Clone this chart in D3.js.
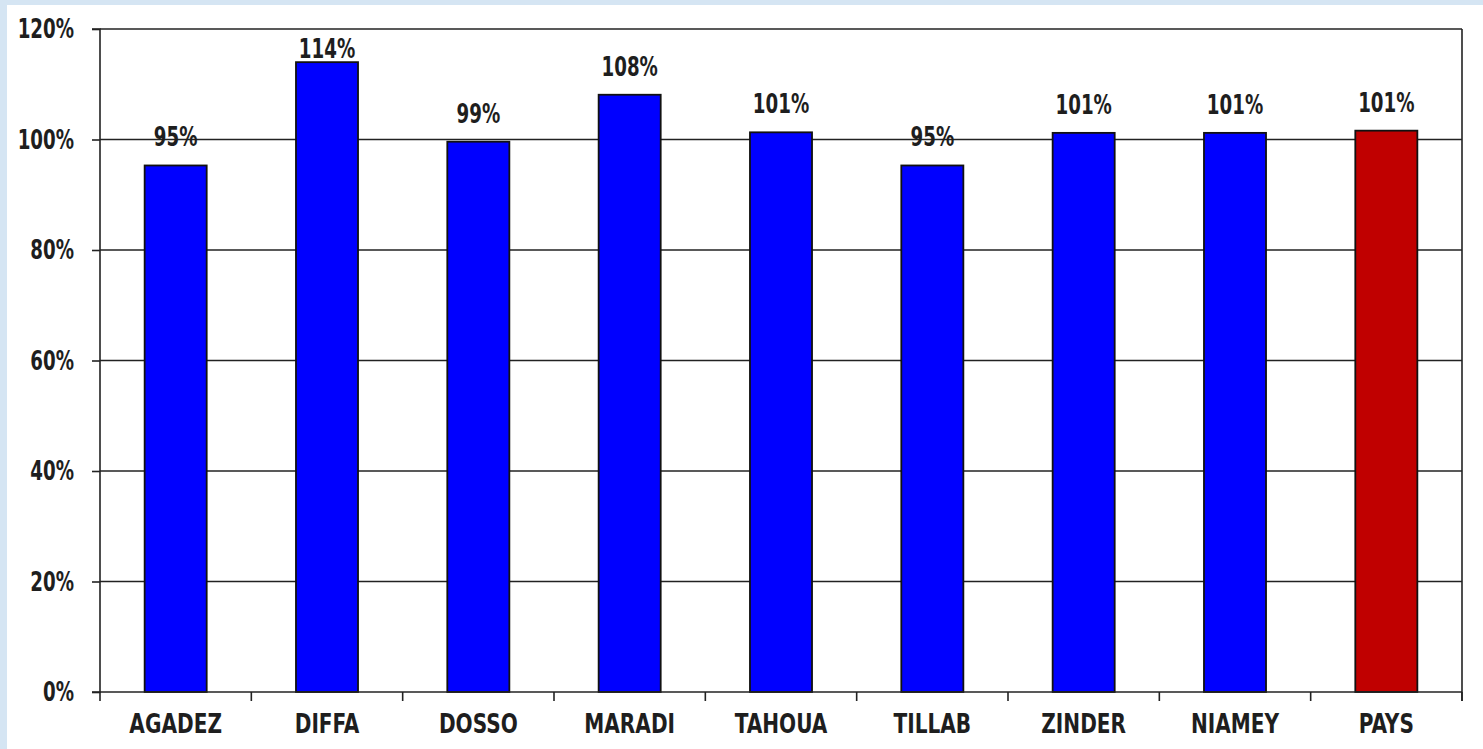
<!DOCTYPE html>
<html>
<head>
<meta charset="utf-8">
<script src="https://cdn.jsdelivr.net/npm/d3@7/dist/d3.min.js"></script>
<style>
  html, body { margin: 0; padding: 0; background: #d5e5f3; }
  svg { display: block; }
  text { font-family: "Liberation Sans Narrow", "DejaVu Sans Condensed", "Arial Narrow", sans-serif; font-weight: bold; fill: #1e1e1e; }
</style>
</head>
<body>
<svg id="chart" width="1483" height="749"></svg>
<script>
// Regions and their coverage rates (%)
const regions = ["AGADEZ", "DIFFA", "DOSSO", "MARADI", "TAHOUA", "TILLAB", "ZINDER", "NIAMEY", "PAYS"];
const rates = [95.3, 114.0, 99.6, 108.1, 101.3, 95.3, 101.2, 101.2, 101.6];
const yTicks = [0, 20, 40, 60, 80, 100, 120];

const W = 1483, H = 749;
const svg = d3.select("#chart");

// white panel
svg.append("rect").attr("x", 7).attr("y", 5).attr("width", W - 7).attr("height", H - 5).attr("fill", "#ffffff");

const plotLeft = 100, plotRight = 1462, plotTop = 29, plotBottom = 692;

const x = d3.scaleBand().domain(regions).range([plotLeft, plotRight]).paddingInner(0.59).paddingOuter(0.295);
const y = d3.scaleLinear().domain([0, 120]).range([plotBottom, plotTop]);

// narrow bold text: drawn at (px, py) and squeezed horizontally
function narrowText(g, px, py, str, anchor, sx) {
  g.append("text")
    .attr("transform", `translate(${px},${py}) scale(${sx},1)`)
    .attr("text-anchor", anchor)
    .attr("font-size", 26)
    .text(str);
}

// horizontal gridlines
svg.append("g").selectAll("line").data(yTicks.filter(t => t > 0)).join("line")
  .attr("x1", plotLeft).attr("x2", plotRight)
  .attr("y1", d => y(d)).attr("y2", d => y(d))
  .attr("stroke", "#222").attr("stroke-width", 1.6);

// right frame
svg.append("line").attr("x1", plotRight).attr("x2", plotRight).attr("y1", plotTop).attr("y2", plotBottom + 9)
  .attr("stroke", "#222").attr("stroke-width", 1.6);

// bars
svg.append("g").selectAll("rect").data(regions).join("rect")
  .attr("x", d => x(d))
  .attr("y", (d, i) => y(rates[i]))
  .attr("width", x.bandwidth())
  .attr("height", (d, i) => y(0) - y(rates[i]))
  .attr("fill", d => d === "PAYS" ? "#c00000" : "#0000ff")
  .attr("stroke", "#111").attr("stroke-width", 1.8);

// value labels
const gLabels = svg.append("g");
regions.forEach((d, i) => {
  narrowText(gLabels, x(d) + x.bandwidth() / 2, Math.max(y(rates[i]) - 19, 58),
    Math.floor(rates[i]) + "%", "middle", 0.78);
});

// y axis
const yAxis = d3.axisLeft(y).tickValues(yTicks).tickFormat("").tickSize(8);
const gy = svg.append("g").attr("transform", `translate(${plotLeft},0)`).call(yAxis);
gy.select(".domain").attr("stroke", "#222").attr("stroke-width", 1.6).attr("d", `M-8,${plotTop}H0V${plotBottom}H-8`);
gy.selectAll(".tick line").attr("stroke", "#222").attr("stroke-width", 1.6);
gy.selectAll(".tick text").remove();
const gyLabels = svg.append("g");
yTicks.forEach(t => narrowText(gyLabels, plotLeft - 26, y(t) + 9, t + "%", "end", 0.78));

// x axis
const xBoundaries = regions.map((d, i) => plotLeft + i * (plotRight - plotLeft) / regions.length).concat([plotRight]);
const gx = svg.append("g");
gx.append("line").attr("x1", plotLeft).attr("x2", plotRight).attr("y1", plotBottom).attr("y2", plotBottom)
  .attr("stroke", "#222").attr("stroke-width", 1.6);
gx.selectAll("line.tk").data(xBoundaries).join("line").attr("class", "tk")
  .attr("x1", d => d).attr("x2", d => d).attr("y1", plotBottom).attr("y2", plotBottom + 9)
  .attr("stroke", "#222").attr("stroke-width", 1.6);
regions.forEach(d => narrowText(gx, x(d) + x.bandwidth() / 2, 733, d, "middle", 0.86));
</script>
</body>
</html>
